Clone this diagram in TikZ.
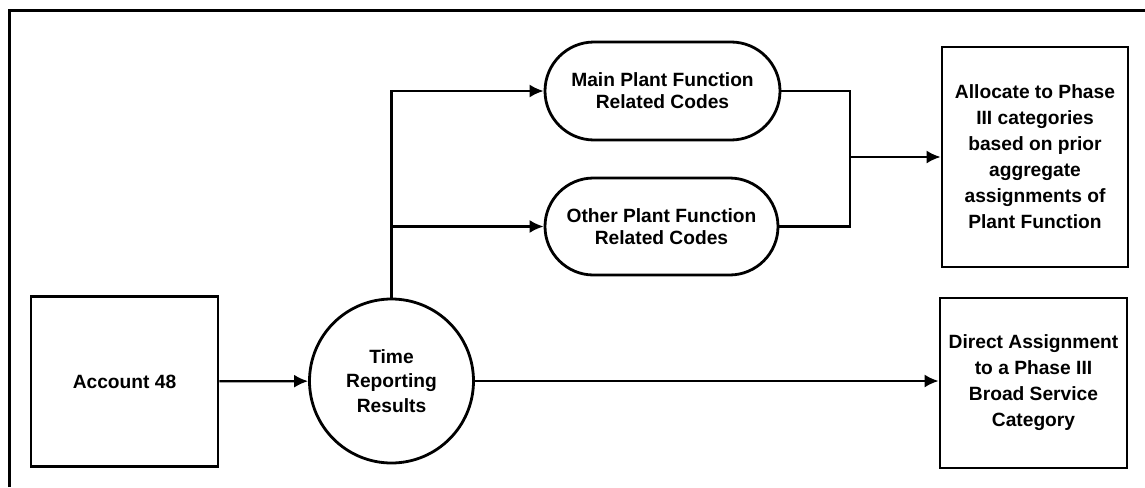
\documentclass[tikz,border=0pt]{standalone}
\usepackage{fontspec}
\setmainfont{Liberation Sans}
\usetikzlibrary{arrows.meta,shapes.misc}

\begin{document}
\begin{tikzpicture}[x=0.5pt, y=-0.5pt,
	every node/.style={font=\bfseries\fontsize{9.6}{13}\selectfont, align=center, line width=1.4pt},
	box/.style={draw, rectangle, inner sep=0pt},
	pill/.style={draw, rounded rectangle, inner sep=0pt, font=\bfseries\fontsize{9.6}{11}\selectfont},
	flow/.style={line width=1.1pt, -{Latex[length=7pt, width=6.5pt]}}]
	\useasboundingbox (0,0) rectangle (1145,487);
	% frame, cut at the right and bottom
	\draw[line width=1.5pt] (9,487) -- (9,10) -- (1145,10);

	\node (acct) [box, minimum width=93.5pt, minimum height=85pt] at (124.5, 381.5) {Account 48};
	\node (trr) [draw, circle, minimum size=82pt, inner sep=0pt, font=\bfseries\fontsize{9.6}{12.4}\selectfont] at (391.5, 381) {Time\\Reporting\\Results};
	\node (main) [pill, minimum width=117.5pt, minimum height=49pt] at (662.5, 91) {Main Plant Function\\Related Codes};
	\node (other) [pill, minimum width=116.5pt, minimum height=48.5pt] at (661.5, 226.5) {Other Plant Function\\Related Codes};
	\node (alloc) [box, minimum width=93pt, minimum height=110pt] at (1035, 157) {Allocate to Phase\\III categories\\based on prior\\aggregate\\assignments of\\Plant Function};
	\node (direct) [box, minimum width=93.5pt, minimum height=85pt] at (1033.5, 383) {Direct Assignment\\to a Phase III\\Broad Service\\Category};
	\coordinate (jn) at (850, 157);

	\draw[flow] (acct) -- (trr);
	\draw[flow] (trr.north) |- (main.west);
	\draw[flow] (trr.north) |- (other.west);
	\draw[line width=1.1pt] (main.east) -| (jn);
	\draw[line width=1.1pt] (other.east) -| (jn);
	\draw[flow] (jn) -- (alloc.west);
	\draw[flow] (trr.east) -- (direct.west |- trr.east);
\end{tikzpicture}
\end{document}
